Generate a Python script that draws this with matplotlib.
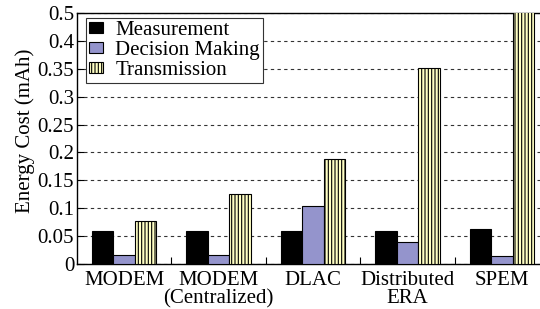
import numpy as np
import matplotlib
matplotlib.use("Agg")
import matplotlib.pyplot as plt

plt.rcParams['font.family'] = ['Liberation Serif', 'DejaVu Serif']
plt.rcParams['hatch.linewidth'] = 0.8

# Daten
groups = ["MODEM", "MODEM\n(Centralized)", "DLAC", "Distributed\nERA", "SPEM"]
measurement = [0.060, 0.060, 0.060, 0.060, 0.0625]
decision = [0.0157, 0.0157, 0.104, 0.040, 0.015]
transmission = [0.0776, 0.126, 0.189, 0.352, 0.50]
yticks = [0, 0.05, 0.1, 0.15, 0.2, 0.25, 0.3, 0.35, 0.4, 0.45]
ytick_labels = ["0", "0.05", "0.1", "0.15", "0.2", "0.25", "0.3", "0.35", "0.4", "0.5"]

fig = plt.figure(figsize=(5.4, 3.09), dpi=100)
ax = fig.add_axes([0.1426, 0.1456, 0.874, 0.8124])

x = np.arange(len(groups))
w = 0.2275
ax.bar(x - w, measurement, w, color='black', edgecolor='black', lw=0.8,
       label='Measurement', zorder=3)
ax.bar(x, decision, w, color='#9494cc', edgecolor='black', lw=0.8,
       label='Decision Making', zorder=3)
ax.bar(x + w, transmission, w, color='#ffffc4', edgecolor='black', lw=0.8,
       hatch='|||||', label='Transmission', zorder=3)

ax.set_xlim(-0.5, 4.5)
ax.set_ylim(0, 0.45)
ax.set_yticks(yticks)
ax.set_yticklabels(ytick_labels)
ax.yaxis.grid(True, linestyle=(0, (3, 3)), color='#333333', lw=0.8, zorder=0)

# Gruppentrenner als Ticks, Labels in der Mitte
ax.set_xticks(x[:-1] + 0.5)
ax.set_xticklabels([])
ax.set_xticks(x, minor=True)
ax.set_xticklabels(groups, minor=True, fontsize=15, linespacing=0.95)
ax.tick_params(axis='x', which='minor', length=0, pad=5)
ax.tick_params(axis='x', which='major', direction='in', length=5)
ax.tick_params(axis='y', direction='in', length=5, labelsize=15, pad=2)

ax.set_ylabel("Energy Cost (mAh)", fontsize=15)
ax.yaxis.set_label_coords(-0.088, 0.53)

for s in ax.spines.values():
    s.set_linewidth(1.0)

leg = ax.legend(loc='upper left', bbox_to_anchor=(0.019, 0.98), borderaxespad=0,
                fontsize=15, frameon=True, fancybox=False,
                borderpad=0.15, labelspacing=0.05, handlelength=0.65,
                handleheight=0.4, handletextpad=0.6)
leg.get_frame().set_edgecolor('#333333')
leg.get_frame().set_linewidth(0.8)
leg.get_frame().set_alpha(1)

fig.savefig("out.png", dpi=100)
